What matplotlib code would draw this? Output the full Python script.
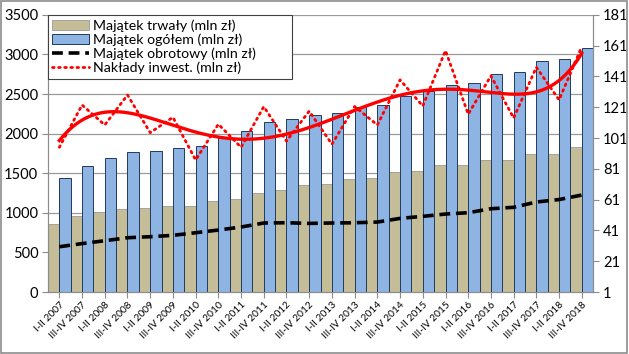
import numpy as np
import matplotlib
matplotlib.use("Agg")
import matplotlib.pyplot as plt
from matplotlib.lines import Line2D
from matplotlib.patches import Patch, Rectangle

plt.rcParams['font.family'] = ['Lato', 'DejaVu Sans']

# half-years 2007-2018
periods = []
for year in range(2007, 2019):
    periods += [f"I-II {year}", f"III-IV {year}"]

majatek_trwaly = [860, 958, 1007, 1048, 1058, 1083, 1083, 1145, 1172, 1247, 1285, 1347,
                  1364, 1427, 1444, 1514, 1527, 1600, 1600, 1667, 1663, 1740, 1740, 1828]
majatek_ogolem = [1445, 1592, 1692, 1765, 1785, 1819, 1844, 1945, 2037, 2151, 2181, 2230,
                  2261, 2341, 2366, 2476, 2543, 2610, 2640, 2758, 2779, 2914, 2948, 3082]
majatek_obrotowy = [572, 612, 648, 686, 699, 716, 749, 783, 821, 872, 875, 867,
                    872, 875, 884, 930, 956, 985, 1002, 1052, 1070, 1137, 1168, 1225]
naklady_inwest = [95, 122.5, 109.5, 129, 104.5, 114.5, 86.8, 110, 95, 121.4, 99, 118.5,
                  97, 121.5, 109.5, 138.8, 121.8, 157.8, 116.5, 141.4, 114, 147, 125.8, 160.4]

x = np.arange(len(periods))

fig = plt.figure(figsize=(6.29, 3.54), dpi=100)
ax = fig.add_axes([0.0763, 0.175, 0.8667, 0.783])
ax2 = ax.twinx()

w = 0.5
ax.bar(x - w / 2, majatek_trwaly, w, color='#C4BD97', edgecolor='#8C8C8C', linewidth=0.5, zorder=2)
ax.bar(x + w / 2, majatek_ogolem, w, color='#8EB4E3', edgecolor='#1F3B5E', linewidth=0.7, zorder=2)
ax.plot(x, majatek_obrotowy, color='black', lw=2.6, dashes=(3, 1.6), zorder=3)

# polynomial trendline (order 6) of investments, as in the source chart
coef = np.polyfit(x + 1, naklady_inwest, 6)
xs = np.linspace(0, len(x) - 1, 300)
ax2.plot(xs, np.polyval(coef, xs + 1), color='#FF0000', lw=2.4, zorder=3)
ax2.plot(x, naklady_inwest, color='#FF0000', lw=2, linestyle=(0, (0.6, 1.6)),
         dash_capstyle='round', zorder=4)

ax.set_xlim(-0.5, len(x) - 0.5)
ax.set_ylim(0, 3500)
ax.set_yticks(range(0, 3501, 500))
ax2.set_ylim(1, 181)
ax2.set_yticks(range(1, 182, 20))

ax.grid(axis='y', color='#9A9A9A', lw=0.9, zorder=0)
ax.set_axisbelow(True)
ax.set_xticks(x)
ax.set_xticklabels(periods, rotation=45, ha='right', rotation_mode='anchor', fontsize=7.3)

for a in (ax, ax2):
    a.spines['top'].set_visible(False)
    for s in ('left', 'right', 'bottom'):
        a.spines[s].set_color('#8C8C8C')
ax.tick_params(axis='y', labelsize=10.5, length=4, color='#8C8C8C', pad=3)
ax2.tick_params(axis='y', labelsize=10.5, length=4, color='#8C8C8C', pad=3)
ax.tick_params(axis='x', length=4, color='#8C8C8C', pad=2)

handles = [Patch(facecolor='#C4BD97', edgecolor='#8C8C8C', lw=0.5),
           Patch(facecolor='#8EB4E3', edgecolor='#1F3B5E', lw=0.7),
           Line2D([], [], color='black', lw=2.6, dashes=(3, 1.6)),
           Line2D([], [], color='#FF0000', lw=2, linestyle=(0, (0.6, 1.6)), dash_capstyle='round')]
labels = ['Majątek trwały (mln zł)', 'Majątek ogółem (mln zł)',
          'Majątek obrotowy (mln zł)', 'Nakłady inwest. (mln zł)']
leg = ax2.legend(handles, labels, loc='upper left', bbox_to_anchor=(0.0, 1.0, 0.448, 0.0),
                 mode='expand', fontsize=10.2,
                 frameon=True, fancybox=False, framealpha=1, edgecolor='#404040',
                 borderaxespad=0, handlelength=2.6, handletextpad=0.3,
                 labelspacing=0.12, borderpad=0.3)
leg.get_frame().set_linewidth(0.8)

fig.patches.append(Rectangle((0.002, 0.003), 0.995, 0.994, transform=fig.transFigure,
                             fill=False, edgecolor='#8C8C8C', lw=1.2))

fig.savefig('out.png', dpi=100)
